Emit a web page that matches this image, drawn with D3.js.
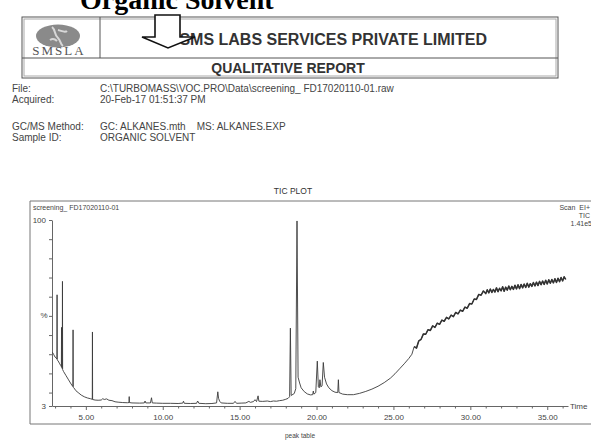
<!DOCTYPE html>
<html><head><meta charset="utf-8">
<script src="https://cdn.jsdelivr.net/npm/d3@7"></script>
<style>html,body{margin:0;padding:0;background:#fff;overflow:hidden}</style>
</head><body><svg id="c" width="591" height="446"></svg>
<script>
// ---- data (retention time in minutes, relative abundance %) ----
const ticSeries = [
 [2.83,31],[2.9,30],[3.0,28.5],[3.08,28],[3.12,27.5],[3.13,61],[3.14,27],[3.2,26.5],[3.3,25],[3.38,24],
 [3.41,23.5],[3.42,44],[3.43,23],[3.47,22.5],[3.48,68],[3.49,22],[3.55,21],[3.7,19],[3.85,17],[4.0,15],
 [4.12,13.5],[4.16,13.2],[4.17,42.7],[4.18,12.8],[4.22,12.5],[4.35,11],[4.5,10],[4.7,8.7],[4.9,7.8],[5.1,7.2],
 [5.3,6.8],[5.42,6.5],[5.43,41.6],[5.44,6.4],[5.6,6.1],[5.8,6.0],[6.0,6.1],[6.1,6.8],[6.2,6.4],[6.35,6.7],
 [6.5,6.0],[6.7,5.8],[6.9,5.2],[7.1,5.0],[7.4,4.8],[7.7,4.7],[7.81,4.8],[7.82,7.9],[7.83,4.8],[8.0,4.6],
 [8.5,4.5],[8.8,4.6],[8.85,5.6],[8.9,4.6],[9.2,4.6],[9.27,7.3],[9.32,4.6],[9.6,4.5],[10.0,4.4],[10.5,4.4],
 [11.0,4.3],[11.3,4.5],[11.35,5.5],[11.4,4.4],[11.8,4.3],[12.2,4.4],[12.27,5.6],[12.35,4.4],[12.8,4.2],[13.2,4.3],
 [13.5,4.6],[13.58,10.4],[13.63,7],[13.7,5.5],[13.8,4.6],[14.2,4.4],[14.6,4.4],[14.7,5.4],[14.8,4.4],[15.1,4.5],
 [15.4,4.6],[15.6,5.4],[15.7,4.9],[15.9,5.3],[16.0,6.3],[16.1,5.3],[16.2,8.3],[16.25,5.5],[16.5,5.4],[16.8,5.6],
 [17.0,5.3],[17.2,5.6],[17.4,5.5],[17.6,5.8],[17.8,6.0],[18.0,6.5],[18.15,7.0],[18.25,7.8],[18.3,43.6],[18.35,8.5],
 [18.55,9.5],[18.65,12],[18.73,99.5],[18.8,18],[18.9,15],[19.0,12.5],[19.2,10.5],[19.4,9.3],[19.6,8.8],[19.75,8.9],
 [19.79,10.8],[19.83,9.2],[19.95,10],[20.05,26.4],[20.12,13],[20.18,12.5],[20.22,16.7],[20.28,13],[20.36,13.5],[20.44,25.7],
 [20.52,18],[20.65,14.5],[20.8,12.5],[21.0,11],[21.2,10.2],[21.38,10],[21.42,16.7],[21.46,10],[21.7,9.2],[22.0,8.9],
 [22.4,8.9],[22.8,9.6],[23.2,10.6],[23.6,11.8],[24.0,13.3],[24.4,15.2],[24.8,17.5],[25.1,19.8],[25.4,22.4],[25.7,25],
 [26.0,27.8],[26.2,30],[26.35,34],[26.5,33.2],[26.65,37.0],[26.8,37.8],[26.95,40.6],[27.1,40.4],[27.25,42.8],[27.4,42.4],
 [27.55,44.8],[27.7,44.0],[27.85,46.2],[28.0,45.6],[28.15,47.8],[28.3,47.2],[28.45,49.2],[28.6,48.4],[28.75,50.4],[28.9,49.6],
 [29.05,51.8],[29.2,51.0],[29.35,53.0],[29.5,52.4],[29.65,54.6],[29.8,54.0],[29.95,56.4],[30.1,56.2],[30.25,58.8],[30.4,58.6],
 [30.55,61.2],[30.7,60.8],[30.85,63.0],[31.0,61.6],[31.1,63.6],[31.2,62.0],[31.3,64.0],[31.4,62.2],[31.5,63.8],[31.6,62.4],
 [31.7,64.6],[31.8,62.6],[31.9,64.4],[32.0,63.0],[32.1,65.2],[32.2,62.8],[32.3,65.0],[32.4,63.4],[32.5,65.6],[32.6,63.6],
 [32.7,65.4],[32.8,63.8],[32.9,66.0],[33.0,64.0],[33.1,66.2],[33.2,64.2],[33.3,66.4],[33.4,64.6],[33.5,66.6],[33.6,64.8],
 [33.7,67.0],[33.8,65.0],[33.9,66.8],[34.0,65.4],[34.1,67.4],[34.2,65.6],[34.3,67.6],[34.4,65.8],[34.5,68.0],[34.6,66.2],
 [34.7,68.2],[34.8,66.4],[34.9,68.6],[35.0,66.6],[35.1,68.8],[35.2,67.0],[35.3,69.0],[35.4,67.2],[35.5,69.4],[35.6,67.4],
 [35.7,69.6],[35.8,67.8],[35.9,70.0],[36.0,68.2],[36.1,70.4],[36.2,69.0]
];
const noisyFrom = 26.3; // start of the thick, noisy part of the trace
const xMajorTicks = [5,10,15,20,25,30,35];
const xMinorTicks = [3,4,6,7,8,9,11,12,13,14,16,17,18,19,21,22,23,24,26,27,28,29,31,32,33,34,36];
const yTicks = [3,10,20,30,40,50,60,70,80,90,100];
const yLabelled = [3,100];
const infoLabels = ["File:","Acquired:","GC/MS Method:","Sample ID:"];
const infoValues = ["C:\\TURBOMASS\\VOC.PRO\\Data\\screening_ FD17020110-01.raw","20-Feb-17 01:51:37 PM","GC: ALKANES.mth    MS: ALKANES.EXP","ORGANIC SOLVENT"];
const scanLabels = ["Scan  EI+","TIC","1.41e5"];

const svg = d3.select("#c");
svg.append("rect").attr("width",591).attr("height",446).attr("fill","#fff");
const sans = "Liberation Sans, Arial, sans-serif";

// title (cut off at top, as in the scan)
svg.append("text").attr("x",80).attr("y",9).attr("font-family","Liberation Serif, Times New Roman, serif")
  .attr("font-weight","bold").attr("font-size",28).attr("fill","#000").text("Organic Solvent");

// header box
const hb = svg.append("g").attr("fill","none");
hb.append("rect").attr("x",22).attr("y",17).attr("width",536).attr("height",61).attr("stroke","#555");
hb.append("rect").attr("x",24).attr("y",19).attr("width",532).attr("height",57).attr("stroke","#aaa");
hb.append("line").attr("x1",22).attr("x2",558).attr("y1",58).attr("y2",58).attr("stroke","#555");
hb.append("line").attr("x1",100).attr("x2",100).attr("y1",17).attr("y2",58).attr("stroke","#555");
// logo
svg.append("ellipse").attr("cx",58).attr("cy",36).attr("rx",22).attr("ry",11.5).attr("fill","#8a8a8a");
svg.append("path").attr("d","M52,27 C56,30 54,35 58,38 C61,41 60,44 63,46 M58,30 C62,31 65,33 67,31 M50,40 C53,38 55,39 57,41")
  .attr("stroke","#d8d8d8").attr("stroke-width",2).attr("fill","none");
svg.append("text").attr("x",59).attr("y",55).attr("text-anchor","middle").attr("font-family","Liberation Serif, serif")
  .attr("font-size",13).attr("letter-spacing",2).attr("fill","#555").text("SMSLA");
svg.append("text").attr("x",487).attr("y",45).attr("text-anchor","end").attr("font-family",sans)
  .attr("font-weight","bold").attr("font-size",16).attr("fill","#333").text("SMS LABS SERVICES PRIVATE LIMITED");
svg.append("text").attr("x",288).attr("y",73).attr("text-anchor","middle").attr("font-family",sans)
  .attr("font-weight","bold").attr("font-size",14).attr("fill","#333").text("QUALITATIVE REPORT");
// arrow
svg.append("path").attr("d","M155,15 L180,15 L180,37 L195,37 L168,48 L142,37 L155,37 Z")
  .attr("fill","#fff").attr("stroke","#111").attr("stroke-width",1.6).attr("stroke-linejoin","miter");

// info lines
const infoY = [92,103,130,141];
infoLabels.forEach((t,i)=>{
  svg.append("text").attr("x",12).attr("y",infoY[i]).attr("font-family",sans).attr("font-size",10).attr("fill","#444").text(t);
  svg.append("text").attr("x",100).attr("y",infoY[i]).attr("font-family",sans).attr("font-size",10).attr("fill","#444")
    .attr("xml:space","preserve").style("white-space","pre").text(infoValues[i]);
});

// chart frame
svg.append("text").attr("x",293).attr("y",194).attr("text-anchor","middle").attr("font-family",sans).attr("font-size",8.5).attr("fill","#333").text("TIC PLOT");
const fr = svg.append("g").attr("stroke","#777").attr("fill","none");
fr.append("line").attr("x1",30).attr("x2",591).attr("y1",201).attr("y2",201);
fr.append("line").attr("x1",30).attr("x2",30).attr("y1",201).attr("y2",424);
fr.append("line").attr("x1",30).attr("x2",591).attr("y1",424).attr("y2",424);
svg.append("text").attr("x",33).attr("y",210).attr("font-family",sans).attr("font-size",7).attr("fill","#444").text("screening_ FD17020110-01");
scanLabels.forEach((t,i)=>{
  svg.append("text").attr("x",i===2?592:590).attr("y",210+i*8).attr("text-anchor","end").attr("font-family",sans)
    .attr("font-size",7).attr("fill","#444").attr("xml:space","preserve").style("white-space","pre").text(t);
});

const x = d3.scaleLinear().domain([2.8,36.35]).range([52,568]);
const y = d3.scaleLinear().domain([3,100]).range([406,220]);

// axes
const gx = svg.append("g").attr("transform","translate(0,406)");
gx.call(d3.axisBottom(x).tickValues(xMajorTicks).tickFormat(d3.format(".2f")).tickSize(4).tickSizeOuter(0));
const gxm = svg.append("g").attr("transform","translate(0,406)");
gxm.call(d3.axisBottom(x).tickValues(xMinorTicks).tickFormat("").tickSize(2.5).tickSizeOuter(0));
gxm.select(".domain").remove();
[gx,gxm].forEach(g=>{g.selectAll("line,path").attr("stroke","#666");});
gx.selectAll("text").attr("font-family",sans).attr("font-size",8).attr("fill","#444").attr("dy","0.9em");
svg.append("text").attr("x",570).attr("y",409).attr("font-family",sans).attr("font-size",8).attr("fill","#444").text("Time");

const gy = svg.append("g").attr("transform","translate(52,0)");
gy.call(d3.axisLeft(y).tickValues(yTicks).tickFormat(d=>yLabelled.includes(d)?String(d):"").tickSize(3).tickSizeOuter(0));
gy.selectAll("line,path").attr("stroke","#666");
gy.selectAll("text").attr("font-family",sans).attr("font-size",8).attr("fill","#444");
svg.append("text").attr("x",44).attr("y",318).attr("text-anchor","middle").attr("font-family",sans).attr("font-size",8).attr("fill","#444").text("%");

// trace
const line = d3.line().x(d=>x(d[0])).y(d=>y(d[1]));
svg.append("path").datum(ticSeries).attr("d",line)
  .attr("fill","none").attr("stroke","#3a3a3a").attr("stroke-width",0.9).attr("stroke-linejoin","round");
svg.append("path").datum(ticSeries.filter(d=>d[0]>=noisyFrom)).attr("d",line)
  .attr("fill","none").attr("stroke","#333").attr("stroke-width",1.5).attr("stroke-linejoin","round");

svg.append("text").attr("x",300).attr("y",438).attr("text-anchor","middle").attr("font-family",sans).attr("font-size",6.5).attr("fill","#444").text("peak table");
</script></body></html>
